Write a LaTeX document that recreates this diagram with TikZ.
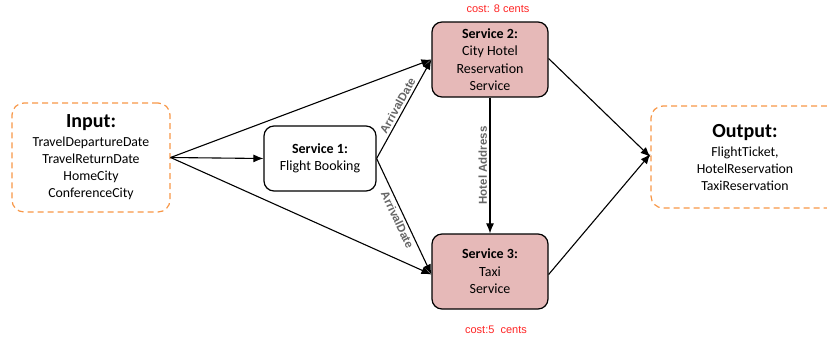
\documentclass[tikz,border=0pt]{standalone}
\usepackage{fontspec}
\setmainfont{Carlito}
\newfontfamily\labelfont{Liberation Sans}
\usetikzlibrary{arrows.meta}
\definecolor{dashorange}{HTML}{F79646}
\definecolor{servicefill}{HTML}{E6B9B8}
\definecolor{labelgray}{HTML}{666666}
\definecolor{costred}{HTML}{FF2424}
\begin{document}
\begin{tikzpicture}[x=1pt,y=-1pt,
  iobox/.style={draw=dashorange, dash pattern=on 6pt off 4pt, line width=1.2pt,
    rounded corners=12pt, align=center, inner sep=0pt,
    font=\fontsize{13.8}{17}\selectfont},
  svc/.style={draw=black, line width=1.2pt, rounded corners=10pt, align=center,
    inner sep=0pt, font=\fontsize{14}{17.5}\selectfont},
  paid/.style={svc, fill=servicefill, minimum width=116pt, minimum height=75pt},
  flow/.style={draw=black, line width=1.1pt, -{Latex[length=10pt,width=8pt]}},
  edgelabel/.style={font=\labelfont\fontsize{11.5}{13}\selectfont\bfseries,
    text=labelgray, inner sep=2.5pt},
  cost/.style={font=\labelfont\fontsize{11}{13}\selectfont, text=costred}
]
\useasboundingbox (0,0) rectangle (827,338);
\clip (0,0) rectangle (827,338);

% input and output sets
\node[iobox, minimum width=158pt, minimum height=109pt] (in) at (91,157.5)
  {{\fontsize{20}{20}\selectfont\bfseries Input:}\\[2pt]
   TravelDepartureDate\\TravelReturnDate\\HomeCity\\ConferenceCity};
\node[iobox, minimum width=188pt, minimum height=102pt] (out) at (745,157)
  {{\fontsize{20}{20}\selectfont\bfseries Output:}\\[2pt]
   FlightTicket,\\HotelReservation\\TaxiReservation};

% services
\node[svc, minimum width=112pt, minimum height=65pt] (s1) at (320,158.5)
  {\textbf{Service 1:}\\Flight Booking};
\node[paid] (s2) at (490,59.5)
  {\textbf{Service 2:}\\City Hotel\\Reservation\\Service};
\node[paid] (s3) at (490,271.5)
  {\textbf{Service 3:}\\Taxi\\Service};

% costs
\node[cost] (c2) at (498,9) {cost: 8 cents};
\node[cost] (c3) at (496,330) {cost:5\ \ cents};

% data flow
\draw[flow] (in.east) -- (s1.west);
\draw[flow] (in.east) -- (s2.west);
\draw[flow] (in.east) -- ([yshift=-3pt]s3.west);
\draw[flow] (s1.east) -- node[edgelabel, sloped, above] {ArrivalDate} (s2.west);
\draw[flow] (s1.east) -- node[edgelabel, sloped, below] {ArrivalDate} ([yshift=-3pt]s3.west);
\draw[flow] (s2.south) -- node[edgelabel, rotate=90, above] {Hotel Address} (s3.north);
\draw[flow] ([yshift=1pt]s2.east) -- (out.west);
\draw[flow] ([yshift=-3pt]s3.east) -- ([yshift=3pt]out.west);
\end{tikzpicture}
\end{document}
